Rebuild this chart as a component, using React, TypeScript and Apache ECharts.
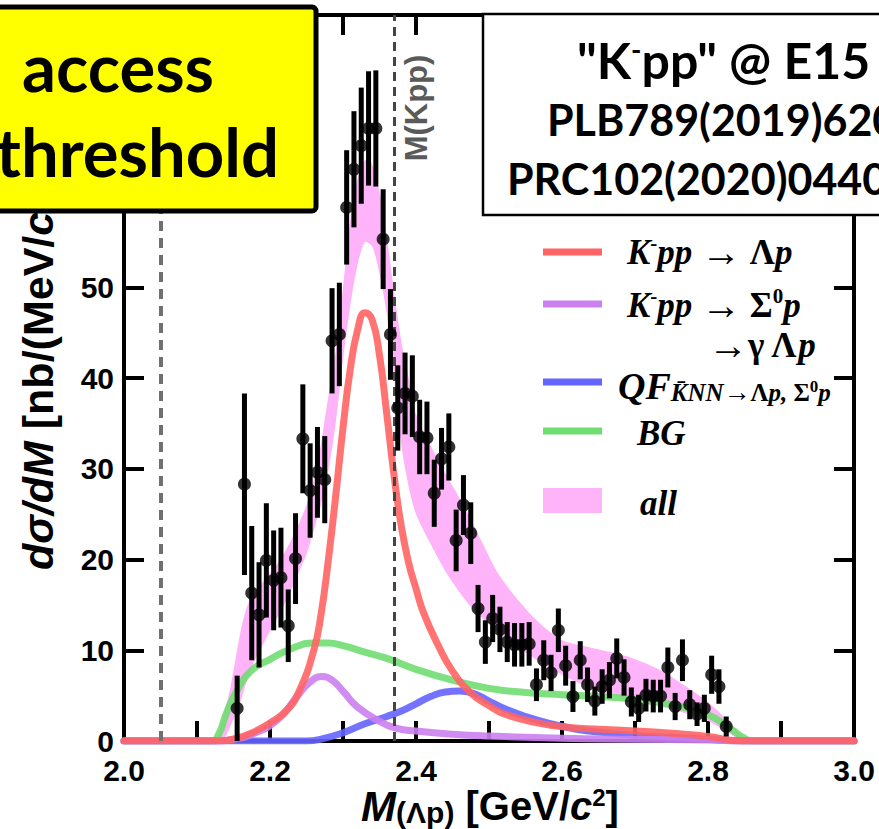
import React, { useEffect, useRef } from 'react';
import * as echarts from 'echarts';

// ---- measured data points: M(Λp) bin centres [GeV/c²], dσ/dM [nb/(MeV/c²)], stat. error
const binCenters = [
  2.155, 2.165, 2.175, 2.185, 2.195, 2.205, 2.215, 2.225, 2.235, 2.245,
  2.255, 2.265, 2.275, 2.285, 2.295, 2.305, 2.315, 2.325, 2.335, 2.345,
  2.355, 2.365, 2.375, 2.385, 2.395, 2.405, 2.415, 2.425, 2.435, 2.445,
  2.455, 2.465, 2.475, 2.485, 2.495, 2.505, 2.515, 2.525, 2.535, 2.545,
  2.555, 2.565, 2.575, 2.585, 2.595, 2.605, 2.615, 2.625, 2.635, 2.645,
  2.655, 2.665, 2.675, 2.685, 2.695, 2.705, 2.715, 2.725, 2.735, 2.745,
  2.755, 2.765, 2.775, 2.785, 2.795, 2.805, 2.815, 2.825,
];
const crossSection = [
  3.6, 28.3, 16.3, 13.9, 19.9, 17.7, 18.0, 12.7, 20.1, 33.3,
  27.6, 29.6, 28.8, 44.1, 44.8, 58.8, 63.0, 65.6, 67.5, 67.5,
  55.3, 44.8, 36.7, 38.3, 38.0, 33.5, 33.4, 27.3, 31.1, 32.4,
  22.1, 26.0, 22.9, 14.6, 10.9, 13.5, 12.3, 10.9, 10.6, 10.6,
  10.7, 6.2, 8.9, 7.5, 12.2, 8.3, 4.9, 8.9, 6.2, 4.4,
  6.0, 6.7, 9.1, 7.0, 4.3, 3.6, 5.05, 4.95, 4.95, 8.1,
  3.8, 8.9, 4.0, 2.95, 3.6, 7.3, 6.0, 1.6,
];
const crossSectionErr = [
  3.6, 10.0, 7.4, 5.8, 6.3, 5.5, 5.5, 4.0, 5.0, 6.0,
  5.2, 5.0, 4.8, 5.8, 5.7, 6.3, 6.4, 6.4, 6.3, 6.4,
  5.5, 5.0, 4.7, 4.5, 4.5, 4.1, 4.0, 3.7, 3.4, 3.7,
  3.4, 3.3, 3.4, 2.6, 2.4, 2.6, 2.5, 2.2, 2.4, 2.4,
  2.4, 1.8, 2.2, 2.0, 2.4, 2.2, 1.7, 2.1, 1.9, 1.6,
  1.9, 2.0, 2.2, 2.0, 1.6, 1.5, 1.8, 1.8, 1.8, 2.2,
  1.5, 2.3, 1.6, 1.3, 1.5, 2.1, 1.9, 1.1,
];

// ---- fit components
const kppLambdaPX = [2.0, 2.13, 2.15, 2.175, 2.2, 2.223, 2.24, 2.26, 2.27, 2.28, 2.29, 2.3, 2.31, 2.32, 2.33, 2.34, 2.35, 2.36, 2.37, 2.38, 2.39, 2.4, 2.41, 2.43, 2.45, 2.475, 2.5, 2.52, 2.566, 2.61, 2.65, 2.7, 2.75, 2.8, 2.845, 3.0];
const kppLambdaPY = [0, 0, 0.2, 0.9, 2.0, 3.4, 5.5, 10.0, 14.0, 20.0, 27.0, 34.5, 41.0, 45.3, 47.2, 46.4, 42.5, 36.0, 29.2, 23.6, 19.6, 16.8, 14.2, 10.6, 7.7, 5.3, 3.9, 3.0, 2.0, 1.5, 1.3, 1.1, 0.85, 0.5, 0, 0];

const kppSigmaPX = [2.0, 2.127, 2.15, 2.173, 2.21, 2.237, 2.255, 2.271, 2.285, 2.301, 2.319, 2.347, 2.374, 2.4, 2.45, 2.5, 2.6, 2.7, 2.8, 2.85, 3.0];
const kppSigmaPY = [0, 0, 0.2, 0.66, 2.3, 4.9, 6.5, 7.1, 6.7, 5.4, 3.8, 2.3, 1.4, 1.1, 0.75, 0.55, 0.3, 0.2, 0.1, 0, 0];

const qfX = [2.0, 2.25, 2.27, 2.3, 2.33, 2.36, 2.38, 2.4, 2.42, 2.44, 2.46, 2.48, 2.5, 2.52, 2.55, 2.58, 2.62, 2.66, 2.7, 2.75, 2.8, 2.85, 3.0];
const qfY = [0, 0, 0.2, 0.9, 1.9, 2.7, 3.3, 4.1, 4.9, 5.4, 5.5, 5.2, 4.4, 3.6, 2.7, 2.0, 1.3, 0.9, 0.6, 0.4, 0.2, 0, 0];

const bgX = [2.0, 2.12, 2.13, 2.14, 2.155, 2.175, 2.2, 2.23, 2.26, 2.28, 2.3, 2.33, 2.36, 2.4, 2.45, 2.5, 2.55, 2.6, 2.65, 2.7, 2.75, 2.8, 2.83, 2.85, 2.86, 3.0];
const bgY = [0, 0, 0.8, 3.0, 5.6, 7.8, 9.0, 10.2, 10.8, 10.8, 10.5, 9.8, 9.1, 7.9, 6.7, 5.8, 5.35, 5.1, 4.9, 4.6, 4.0, 2.9, 1.4, 0.3, 0, 0];

// "all" band, upper and lower edges
const allUpperX = [2.128, 2.145, 2.16, 2.17, 2.19, 2.21, 2.23, 2.25, 2.265, 2.278, 2.29, 2.3, 2.31, 2.32, 2.33, 2.34, 2.35, 2.36, 2.37, 2.38, 2.39, 2.4, 2.43, 2.465, 2.49, 2.51, 2.535, 2.565, 2.6, 2.645, 2.69, 2.735, 2.77, 2.8, 2.825, 2.852];
const allUpperY = [0, 5.6, 12.2, 15.1, 17.5, 19.5, 22.3, 26.0, 30.5, 37.0, 43.0, 50.0, 57.5, 62.0, 64.0, 63.5, 60.5, 55.5, 49.5, 44.0, 40.0, 36.0, 31.0, 26.0, 22.0, 18.8, 16.0, 13.3, 11.1, 10.2, 9.3, 7.8, 6.0, 4.3, 2.4, 0];
const allLowerX = [2.135, 2.145, 2.159, 2.173, 2.196, 2.22, 2.237, 2.25, 2.26, 2.27, 2.28, 2.29, 2.3, 2.31, 2.32, 2.33, 2.34, 2.35, 2.36, 2.37, 2.38, 2.39, 2.4, 2.42, 2.4425, 2.475, 2.52, 2.566, 2.61, 2.65, 2.7, 2.75, 2.8, 2.83, 2.845];
const allLowerY = [0, 1.5, 4.2, 7.8, 11.5, 15.1, 18.1, 20.6, 23.2, 26.1, 29.8, 35.0, 42.0, 48.0, 52.5, 55.0, 54.5, 51.5, 47.0, 40.0, 32.5, 28.0, 25.0, 21.7, 18.4, 14.8, 11.5, 8.9, 6.9, 5.6, 4.4, 3.5, 2.2, 0.8, 0];

// thresholds [GeV/c²]
const lambdaNThreshold = 2.054;
const kppThreshold = 2.370;

const yLabelMax = 50;

const SANS = 'Liberation Sans';
const SERIF = 'Liberation Serif';
const CAL = 'Lato';

const colors = {
  red: '#ff6464',
  purple: '#cc80ef',
  blue: '#6464ff',
  green: '#70dd70',
  pink: '#ffb4fa',
};

function curve(name: string, xs: number[], ys: number[], color: string) {
  return {
    type: 'line',
    name,
    data: xs.map((x, i) => [x, ys[i]]),
    showSymbol: false,
    symbol: 'none',
    smooth: 0.5,
    lineStyle: { color, width: 7, opacity: 0.9, cap: 'round', join: 'round' },
    z: 3,
    silent: true,
  };
}

export default function App() {
  const ref = useRef<HTMLDivElement>(null);
  useEffect(() => {
    document.body.style.margin = '0';
    const chart = echarts.init(ref.current!, null, { renderer: 'svg' });
    const frame = { show: true, onZero: false, lineStyle: { color: '#000', width: 4 } };
    const tick = { show: true, inside: true, length: 20, lineStyle: { color: '#000', width: 4 } };
    const minor = { show: true, splitNumber: 2, length: 20, lineStyle: { color: '#000', width: 4 } };
    const lbl = { fontFamily: SANS, fontWeight: 'bold', fontSize: 30, color: '#000' };

    const FS = 35;
    const iSerif = { fontFamily: SERIF, fontStyle: 'italic', fontWeight: 'bold', fontSize: FS, fill: '#000' };
    const bSerif = { fontFamily: SERIF, fontStyle: 'normal', fontWeight: 'bold', fontSize: FS, fill: '#000' };
    const aSerif = { fontFamily: SERIF, fontStyle: 'normal', fontWeight: 'normal', fontSize: 40, fill: '#000' };
    const supSerif = { fontFamily: SERIF, fontStyle: 'normal', fontWeight: 'bold', fontSize: 21, fill: '#000', verticalAlign: 'top' };
    const legendRich = {
      i: iSerif, b: bSerif, a: aSerif, sup: supSerif,
      q: { ...iSerif, fontSize: 38 },
      sub: { ...iSerif, fontSize: 25, verticalAlign: 'bottom' },
      suba: { ...aSerif, fontSize: 27, verticalAlign: 'bottom' },
      subb: { ...bSerif, fontSize: 25, verticalAlign: 'bottom' },
      subsup: { ...bSerif, fontSize: 17, verticalAlign: 'middle' },
    };

    const legendLine = (y: number, color: string) => ({
      type: 'line', shape: { x1: 543, y1: y, x2: 602, y2: y },
      style: { stroke: color, lineWidth: 7 }, z: 60,
    });
    const legendText = (x: number, y: number, text: string) => ({
      type: 'text', x, y,
      style: { text, rich: legendRich, ...iSerif, align: 'left', verticalAlign: 'middle' }, z: 60,
    });

    const calRich = {
      sup: { fontFamily: CAL, fontWeight: 'bold', fontSize: 28, fill: '#000', verticalAlign: 'top' },
    };

    chart.setOption({
      animation: false,
      grid: { left: 124, right: 25, top: 15, bottom: 88, containLabel: false },
      xAxis: [
        {
          type: 'value', min: 2.0, max: 3.0, interval: 0.2, position: 'bottom',
          axisLine: frame, axisTick: tick, minorTick: minor,
          axisLabel: { ...lbl, margin: 14, formatter: (v: number) => v.toFixed(1) },
          splitLine: { show: false }, minorSplitLine: { show: false },
        },
        {
          type: 'value', min: 2.0, max: 3.0, interval: 0.2, position: 'top',
          axisLine: frame, axisTick: tick, minorTick: minor,
          axisLabel: { show: false }, splitLine: { show: false }, minorSplitLine: { show: false },
        },
      ],
      yAxis: [
        {
          type: 'value', min: 0, max: 80, interval: 10, position: 'left',
          axisLine: frame, axisTick: tick,
          axisLabel: { ...lbl, margin: 10, formatter: (v: number) => (v <= yLabelMax ? String(v) : '') },
          splitLine: { show: false },
        },
        {
          type: 'value', min: 0, max: 80, interval: 10, position: 'right',
          axisLine: frame, axisTick: tick, axisLabel: { show: false }, splitLine: { show: false },
        },
      ],
      series: [
        {
          type: 'custom',
          name: 'all',
          coordinateSystem: 'cartesian2d',
          data: [[2.5, 10]],
          silent: true,
          z: 1,
          renderItem: (_p: any, api: any) => {
            const pts: number[][] = [];
            allUpperX.forEach((x, i) => pts.push(api.coord([x, allUpperY[i]])));
            for (let i = allLowerX.length - 1; i >= 0; i--) pts.push(api.coord([allLowerX[i], allLowerY[i]]));
            return { type: 'polygon', shape: { points: pts, smooth: 0.25 }, style: { fill: colors.pink } };
          },
        },
        curve('BG', bgX, bgY, colors.green),
        curve('QF', qfX, qfY, colors.blue),
        curve('K-pp → Σ0p', kppSigmaPX, kppSigmaPY, colors.purple),
        curve('K-pp → Λp', kppLambdaPX, kppLambdaPY, colors.red),
        {
          type: 'custom',
          name: 'errors',
          coordinateSystem: 'cartesian2d',
          data: binCenters.map((x, i) => [x, crossSection[i] - crossSectionErr[i], crossSection[i] + crossSectionErr[i]]),
          encode: { x: 0, y: [1, 2] },
          silent: true,
          z: 5,
          renderItem: (_p: any, api: any) => {
            const a = api.coord([api.value(0), Math.max(0, api.value(1))]);
            const b = api.coord([api.value(0), api.value(2)]);
            return { type: 'line', shape: { x1: a[0], y1: a[1], x2: b[0], y2: b[1] }, style: { stroke: '#000', lineWidth: 5 } };
          },
        },
        {
          type: 'scatter',
          name: 'data',
          data: binCenters.map((x, i) => [x, crossSection[i]]),
          symbol: 'circle',
          symbolSize: 13,
          itemStyle: { color: '#000' },
          silent: true,
          z: 6,
          markLine: {
            silent: true,
            symbol: ['none', 'none'],
            label: { show: false },
            data: [
              { xAxis: lambdaNThreshold, lineStyle: { type: [10, 7], color: '#707070', width: 4 } },
              { xAxis: kppThreshold, lineStyle: { type: [9, 6], color: '#454545', width: 3 } },
            ],
          },
        },
      ],
      graphic: [
        // y axis title
        {
          type: 'text', x: 38, y: 570, rotation: Math.PI / 2, z: 50,
          style: {
            text: '{i|dσ/dM} [nb/(MeV/{i|c}{s|2})]',
            fontFamily: SANS, fontWeight: 'bold', fontSize: 43, fill: '#000',
            align: 'left', verticalAlign: 'middle',
            rich: {
              i: { fontFamily: SANS, fontWeight: 'bold', fontStyle: 'italic', fontSize: 43, fill: '#000' },
              s: { fontFamily: SANS, fontWeight: 'bold', fontSize: 27, fill: '#000', verticalAlign: 'top' },
            },
          },
        },
        // x axis title
        {
          type: 'text', x: 490, y: 806, z: 50,
          style: {
            text: '{m|M}{p|(Λp)} [GeV/{i|c}{s|2}]',
            fontFamily: SANS, fontWeight: 'bold', fontSize: 40, fill: '#000',
            align: 'center', verticalAlign: 'middle',
            rich: {
              m: { fontFamily: SANS, fontWeight: 'bold', fontStyle: 'italic', fontSize: 42, fill: '#000' },
              p: { fontFamily: SANS, fontWeight: 'bold', fontSize: 30, fill: '#000', verticalAlign: 'bottom' },
              i: { fontFamily: SANS, fontWeight: 'bold', fontStyle: 'italic', fontSize: 40, fill: '#000' },
              s: { fontFamily: SANS, fontWeight: 'bold', fontSize: 24, fill: '#000', verticalAlign: 'top' },
            },
          },
        },
        // threshold label
        {
          type: 'text', x: 416, y: 108, rotation: Math.PI / 2, z: 50,
          style: { text: 'M(Kpp)', fontFamily: SANS, fontWeight: 'bold', fontSize: 31, fill: '#5a5a5a', align: 'center', verticalAlign: 'middle' },
        },
        // legend
        legendLine(252, colors.red),
        legendLine(304, colors.purple),
        legendLine(382, colors.blue),
        legendLine(431, colors.green),
        { type: 'rect', shape: { x: 543, y: 488, width: 59, height: 25 }, style: { fill: colors.pink }, z: 60 },
        legendText(627, 252, '{i|K}{sup|-}{i|pp} {a|→} {b|Λ}{i|p}'),
        legendText(627, 305, '{i|K}{sup|-}{i|pp} {a|→} {b|Σ}{sup|0}{i|p}'),
        legendText(708, 345, '{a|→}{b|γ Λ}{i|p}'),
        legendText(618, 386, '{q|QF}{sub|K̄NN}{suba|→}{subb|Λ}{sub|p, }{subb|Σ}{subsup|0}{sub|p}'),
        legendText(637, 433, '{i|BG}'),
        legendText(640, 503, '{i|all}'),
        // yellow box
        {
          type: 'rect', z: 100,
          shape: { x: -20, y: 7, width: 336, height: 204, r: 4 },
          style: { fill: '#ffff00', stroke: '#000', lineWidth: 5 },
        },
        {
          type: 'text', x: 22, y: 66, z: 101,
          style: { text: 'access', fontFamily: CAL, fontWeight: 'bold', fontSize: 67, fill: '#000', align: 'left', verticalAlign: 'middle' },
        },
        {
          type: 'text', x: 279, y: 151, z: 101,
          style: { text: 'threshold', fontFamily: CAL, fontWeight: 'bold', fontSize: 67, fill: '#000', align: 'right', verticalAlign: 'middle' },
        },
        // reference box
        {
          type: 'rect', z: 100,
          shape: { x: 483, y: 14, width: 420, height: 201 },
          style: { fill: '#ffffff', stroke: '#000', lineWidth: 2.5 },
        },
        {
          type: 'text', x: 577, y: 60, z: 101,
          style: {
            text: '"K{sup|-}pp" @ E15', rich: calRich,
            fontFamily: CAL, fontWeight: 'bold', fontSize: 50, fill: '#000', align: 'left', verticalAlign: 'middle',
          },
        },
        {
          type: 'text', x: 547, y: 119, z: 101,
          style: { text: 'PLB789(2019)620', fontFamily: CAL, fontWeight: 'bold', fontSize: 43, fill: '#000', align: 'left', verticalAlign: 'middle' },
        },
        {
          type: 'text', x: 507, y: 178, z: 101,
          style: { text: 'PRC102(2020)0440', fontFamily: CAL, fontWeight: 'bold', fontSize: 43, fill: '#000', align: 'left', verticalAlign: 'middle' },
        },
      ],
    });
    return () => chart.dispose();
  }, []);
  return <div ref={ref} style={{ width: 879, height: 829 }} />;
}
